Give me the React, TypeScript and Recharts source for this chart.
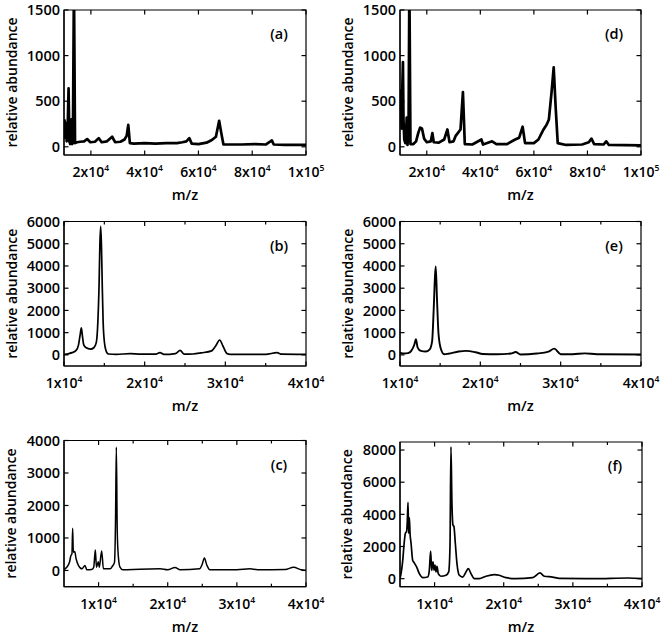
import React from 'react';
import { LineChart, Line, XAxis, YAxis, ReferenceArea } from 'recharts';

const FONT = '"Open Sans", "DejaVu Sans", sans-serif';
const WEIGHT = 600;

// spectra: [m/z, relative abundance]
const spectrumA = [
  [10000, 200], [10200, 290], [10500, 100], [10800, 260], [11000, 60], [11300, 120],
  [11700, 640], [12000, 60], [12300, 30], [12700, 300], [13000, 30], [13300, 40],
  [13700, 1800], [14100, 40], [14800, 50], [16000, 55], [17500, 60], [18600, 85],
  [19800, 50], [21500, 55], [22900, 95], [24000, 50], [26000, 60], [27900, 110],
  [29000, 50], [31000, 55], [32500, 80], [33300, 120], [33900, 240], [34500, 40],
  [36000, 35], [40000, 40], [44000, 35], [48000, 40], [52000, 40], [54000, 50],
  [55500, 60], [56600, 95], [57500, 35], [60000, 30], [63000, 45], [65000, 75],
  [66500, 110], [67700, 285], [68500, 150], [69300, 25], [72000, 25], [76000, 25],
  [81000, 30], [85000, 25], [87300, 70], [88000, 25], [92000, 20], [96000, 20], [100000, 20],
];

const spectrumB = [
  [10000, 20], [10600, 60], [11000, 100], [11500, 200], [11800, 450], [12000, 900],
  [12150, 1220], [12300, 800], [12450, 450], [12700, 330], [13300, 260], [13700, 320],
  [14000, 550], [14200, 1500], [14350, 3200], [14450, 5000], [14550, 5780], [14650, 4800],
  [14750, 3000], [14850, 1500], [15000, 600], [15200, 200], [15500, 40], [16500, 20],
  [18200, 60], [19500, 30], [21300, 30], [21900, 100], [22400, 20], [23800, 60],
  [24400, 200], [24900, 30], [26000, 40], [27000, 90], [28300, 180], [28800, 400],
  [29300, 670], [29700, 400], [30200, 60], [30600, 20], [35000, 25], [36400, 100],
  [37000, 30], [40000, 20],
];

const spectrumC = [
  [5000, 30], [5400, 100], [5800, 260], [6000, 460], [6150, 510], [6250, 1300],
  [6350, 560], [6550, 580], [6750, 360], [7100, 150], [7600, 50], [8040, 150],
  [8300, 20], [9000, 30], [9300, 100], [9530, 630], [9700, 100], [9960, 270],
  [10100, 100], [10450, 600], [10700, 50], [11700, 50], [12000, 130], [12300, 250],
  [12450, 1500], [12570, 3800], [12700, 1230], [12850, 460], [13100, 100], [13500, 20],
  [16000, 40], [18900, 50], [20000, 20], [21050, 90], [21800, 20], [24600, 50],
  [25000, 200], [25300, 380], [25650, 170], [26100, 20], [30000, 20], [31900, 50],
  [33000, 20], [37000, 30], [38200, 100], [39300, 20], [40000, 0],
];

const spectrumD = [
  [10000, 630], [10200, 380], [10400, 480], [10600, 200], [10900, 700], [11100, 930],
  [11300, 300], [11600, 80], [12000, 40], [12300, 150], [12500, 320], [12800, 20],
  [13200, 200], [13500, 1800], [13900, 30], [15000, 30], [16000, 60], [16800, 150],
  [17500, 210], [18200, 200], [19000, 90], [20000, 50], [21500, 60], [22100, 150],
  [22600, 50], [24500, 45], [26500, 80], [27700, 190], [28500, 50], [30000, 60],
  [30800, 120], [32600, 190], [33500, 600], [34200, 30], [37000, 25], [40400, 80],
  [41000, 25], [44400, 60], [46000, 30], [50000, 30], [53000, 80], [54500, 100],
  [55800, 220], [56700, 40], [60000, 40], [61700, 80], [63600, 190], [64800, 245],
  [65600, 300], [66600, 600], [67400, 870], [68100, 450], [68900, 40], [72000, 20],
  [78000, 25], [80500, 50], [81500, 90], [82500, 30], [86000, 25], [87000, 60],
  [88000, 20], [100000, 15],
];

const spectrumE = [
  [10000, 100], [10500, 60], [11000, 80], [11400, 180], [11800, 480], [11980, 700],
  [12200, 330], [12600, 180], [13200, 150], [13700, 250], [14000, 620], [14200, 2100],
  [14350, 3500], [14450, 3980], [14600, 2560], [14800, 920], [15100, 250], [15500, 30],
  [16000, 50], [17300, 150], [18200, 180], [19400, 120], [20300, 40], [22000, 30],
  [23800, 60], [24400, 130], [25000, 20], [27000, 60], [28500, 150], [29200, 280],
  [30000, 30], [31500, 30], [33000, 70], [34500, 30], [40000, 20],
];

const spectrumF = [
  [5000, 0], [5150, 310], [5400, 1150], [5600, 2200], [5780, 2820], [5950, 2930],
  [6050, 3500], [6160, 4740], [6250, 2820], [6350, 3800], [6450, 2820], [6600, 2200],
  [6830, 1150], [7070, 980], [7400, 730], [7800, 310], [8300, 60], [9000, 100],
  [9240, 520], [9430, 1710], [9580, 520], [9770, 1050], [9920, 520], [10060, 840],
  [10200, 420], [10350, 770], [10540, 310], [10920, 150], [11650, 210], [12040, 420],
  [12230, 1990], [12370, 8200], [12510, 4700], [12660, 3340], [12800, 3240], [13000, 2200],
  [13240, 940], [13580, 210], [14060, 100], [14540, 420], [14880, 630], [15270, 310],
  [15750, 0], [16470, 0], [17430, 150], [18640, 250], [19360, 210], [20320, 60],
  [21770, 0], [24180, 60], [25240, 355], [25870, 150], [27070, 100], [28030, 20],
  [33000, 0], [38000, 40], [40000, 0],
];

const xTicksWide = [20000, 40000, 60000, 80000, 100000];
const xTicksNarrow = [10000, 20000, 30000, 40000];
const xMinorNarrow = [15000, 25000, 35000];
const yTicksAD = [0, 500, 1000, 1500];
const yTicksBE = [0, 1000, 2000, 3000, 4000, 5000, 6000];
const yTicksC = [0, 1000, 2000, 3000, 4000];
const yTicksF = [0, 2000, 4000, 6000, 8000];

const sci = (v: number) => {
  const exp = Math.floor(Math.log10(v) + 1e-9);
  const mant = Math.round(v / Math.pow(10, exp));
  return { base: `${mant}x10`, exp: String(exp) };
};

// bottom axis: inward ticks at the bottom edge, mirrored ones at the top edge
const BottomTick = (p: any) => {
  const { x, y, payload, majors, plotH } = p;
  const major = majors.includes(payload.value);
  const len = major ? 4.5 : 3;
  const s = sci(payload.value);
  return (
    <g>
      <line x1={x} x2={x} y1={y} y2={y - len} stroke="#000" strokeWidth={1.2} />
      <line x1={x} x2={x} y1={y - plotH} y2={y - plotH + len} stroke="#000" strokeWidth={1.2} />
      {major && (
        <text x={x} y={y + 22} textAnchor="middle" fontFamily={FONT} fontWeight={WEIGHT} fontSize={14} fill="#000" stroke="none">
          <tspan>{s.base}</tspan>
          <tspan dy={-6} fontSize={8.5}>{s.exp}</tspan>
        </text>
      )}
    </g>
  );
};

// left axis: inward ticks at the left edge, mirrored ones at the right edge
const LeftTick = (p: any) => {
  const { x, y, payload, plotW } = p;
  return (
    <g>
      <line x1={x} x2={x + 4.5} y1={y} y2={y} stroke="#000" strokeWidth={1.2} />
      <line x1={x + plotW} x2={x + plotW - 4.5} y1={y} y2={y} stroke="#000" strokeWidth={1.2} />
      <text x={x - 4} y={y} dy="0.36em" textAnchor="end" fontFamily={FONT} fontWeight={WEIGHT} fontSize={14.5} fill="#000" stroke="none">
        {payload.value}
      </text>
    </g>
  );
};

type PanelProps = {
  left: number;
  top: number;
  w: number;
  h: number;
  pl: number;
  pr: number;
  pt: number;
  pb: number;
  points: number[][];
  xDomain: [number, number];
  yDomain: [number, number];
  xTicks: number[];
  xMinor: number[];
  yTicks: number[];
  tag: string;
  sw: number;
  curve: 'linear' | 'monotone';
};

const Panel = ({ left, top, w, h, pl, pr, pt, pb, points, xDomain, yDomain, xTicks, xMinor, yTicks, tag, sw, curve }: PanelProps) => {
  const rows = points.map(([mz, ab]) => ({ mz, ab }));
  const plotW = pr - pl;
  const plotH = pb - pt;
  return (
    <div style={{ position: 'absolute', left, top, width: w, height: h }}>
      <LineChart width={w} height={h} data={rows} margin={{ top: pt, right: w - pr, bottom: 0, left: 0 }}>
        <XAxis
          dataKey="mz"
          type="number"
          domain={xDomain}
          allowDataOverflow
          ticks={[...xTicks, ...xMinor]}
          interval={0}
          height={h - pb}
          tickSize={0}
          tickMargin={0}
          tickLine={false}
          axisLine={{ stroke: '#000', strokeWidth: 1.2 }}
          tick={(p: any) => <BottomTick {...p} majors={xTicks} plotH={plotH} />}
          label={{
            content: (lp: any) => {
              const vb = lp.viewBox;
              return (
                <text x={vb.x + vb.width / 2} y={vb.y + 45} textAnchor="middle" fontFamily={FONT} fontWeight={WEIGHT} fontSize={14.5} fill="#000">
                  m/z
                </text>
              );
            },
          }}
        />
        <YAxis
          type="number"
          domain={yDomain}
          allowDataOverflow
          ticks={yTicks}
          interval={0}
          width={pl}
          tickSize={0}
          tickMargin={0}
          tickLine={false}
          axisLine={{ stroke: '#000', strokeWidth: 1.2 }}
          tick={(p: any) => <LeftTick {...p} plotW={plotW} />}
          label={{
            content: (lp: any) => {
              const vb = lp.viewBox;
              const cx = vb.x + vb.width - 53;
              const cy = vb.y + vb.height / 2;
              return (
                <text
                  x={cx}
                  y={cy}
                  transform={`rotate(-90 ${cx} ${cy})`}
                  textAnchor="middle"
                  dominantBaseline="central"
                  fontFamily={FONT}
                  fontWeight={WEIGHT}
                  fontSize={14}
                  fill="#000"
                >
                  relative abundance
                </text>
              );
            },
          }}
        />
        <Line
          type={curve}
          dataKey="ab"
          stroke="#000"
          strokeWidth={sw}
          strokeLinejoin="round"
          dot={false}
          activeDot={false}
          isAnimationActive={false}
        />
        <ReferenceArea
          x1={xDomain[0]}
          x2={xDomain[1]}
          y1={yDomain[0]}
          y2={yDomain[1]}
          ifOverflow="visible"
          fill="none"
          fillOpacity={0}
          stroke="#000"
          strokeWidth={1.2}
          strokeOpacity={1}
          label={{
            content: (lp: any) => {
              const vb = lp.viewBox;
              return (
                <text x={vb.x + vb.width - 27} y={vb.y + 29} textAnchor="middle" fontFamily={FONT} fontWeight={WEIGHT} fontSize={14.5} fill="#000">
                  {tag}
                </text>
              );
            },
          }}
        />
      </LineChart>
    </div>
  );
};

export default function App() {
  return (
    <div style={{ position: 'absolute', left: 0, top: 0, width: 664, height: 638, background: '#fff' }}>
      <Panel left={0} top={0} w={332} h={210} pl={64} pr={306} pt={10} pb={155}
        points={spectrumA} xDomain={[10000, 100000]} yDomain={[-90, 1500]}
        xTicks={xTicksWide} xMinor={[]} yTicks={yTicksAD} tag="(a)" sw={2.7} curve="linear" />
      <Panel left={332} top={0} w={332} h={210} pl={68} pr={309} pt={10} pb={155}
        points={spectrumD} xDomain={[10000, 100000]} yDomain={[-90, 1500]}
        xTicks={xTicksWide} xMinor={[]} yTicks={yTicksAD} tag="(d)" sw={2.7} curve="linear" />
      <Panel left={0} top={210} w={332} h={210} pl={64} pr={306} pt={11.5} pb={156}
        points={spectrumB} xDomain={[10000, 40000]} yDomain={[-500, 6000]}
        xTicks={xTicksNarrow} xMinor={xMinorNarrow} yTicks={yTicksBE} tag="(b)" sw={1.7} curve="monotone" />
      <Panel left={332} top={210} w={332} h={210} pl={68} pr={309} pt={11.5} pb={156}
        points={spectrumE} xDomain={[10000, 40000]} yDomain={[-500, 6000]}
        xTicks={xTicksNarrow} xMinor={xMinorNarrow} yTicks={yTicksBE} tag="(e)" sw={1.9} curve="monotone" />
      <Panel left={0} top={420} w={332} h={218} pl={64} pr={306} pt={20.5} pb={166.7}
        points={spectrumC} xDomain={[5000, 40000]} yDomain={[-500, 4000]}
        xTicks={xTicksNarrow} xMinor={xMinorNarrow} yTicks={yTicksC} tag="(c)" sw={1.5} curve="monotone" />
      <Panel left={332} top={420} w={332} h={218} pl={68} pr={310} pt={22} pb={166.7}
        points={spectrumF} xDomain={[5000, 40000]} yDomain={[-500, 8500]}
        xTicks={xTicksNarrow} xMinor={xMinorNarrow} yTicks={yTicksF} tag="(f)" sw={1.7} curve="monotone" />
    </div>
  );
}
